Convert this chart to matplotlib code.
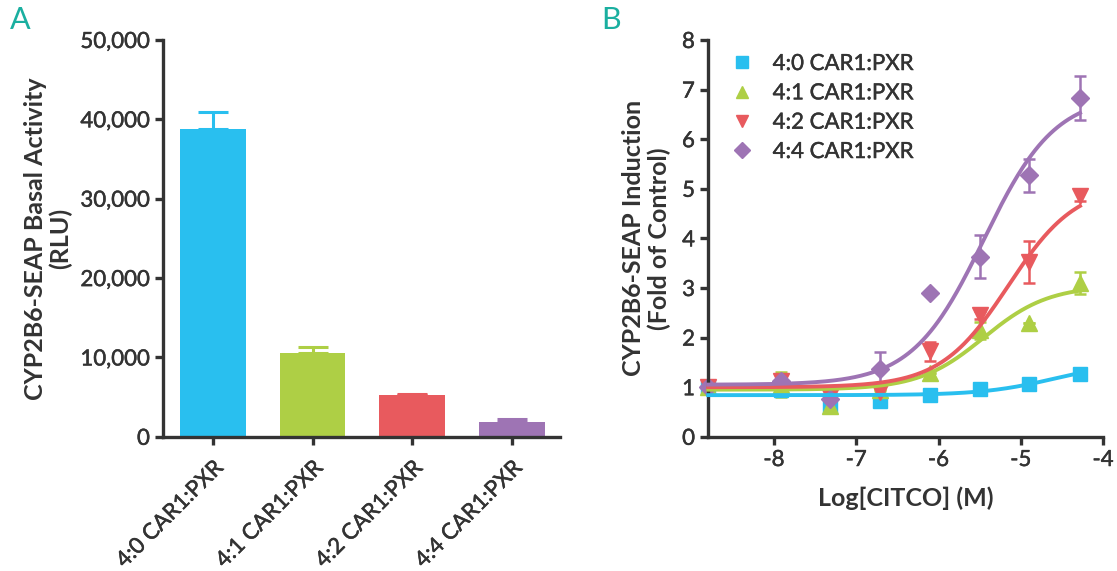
import matplotlib
matplotlib.use("Agg")
import matplotlib.pyplot as plt
import matplotlib.patheffects as pe
from matplotlib.lines import Line2D
import numpy as np

plt.rcParams['font.family'] = ['Lato', 'DejaVu Sans']
plt.rcParams['axes.unicode_minus'] = False

# panel A data
groups = ['4:0 CAR1:PXR', '4:1 CAR1:PXR', '4:2 CAR1:PXR', '4:4 CAR1:PXR']
basal = [38800, 10550, 5300, 1850]
basal_err = [2100, 750, 120, 400]
colors = ['#29BFEF', '#AECF45', '#E85A5E', '#9E74B4']

# panel B data
log_citco = [-8.8, -7.92, -7.32, -6.71, -6.1, -5.5, -4.9, -4.28]
fold_40 = [1.0, 0.95, 0.63, 0.72, 0.85, 0.97, 1.06, 1.26]
fold_40_err = [0.04, 0.04, 0.04, 0.04, 0.04, 0.04, 0.08, 0.06]
fold_41 = [1.0, 1.05, 0.62, 0.95, 1.28, 2.15, 2.3, 3.1]
fold_41_err = [0.1, 0.25, 0.0, 0.0, 0.0, 0.17, 0.0, 0.23]
fold_42 = [1.0, 1.12, 0.8, 0.9, 1.72, 2.45, 3.52, 4.85]
fold_42_err = [0.05, 0.12, 0.0, 0.15, 0.2, 0.08, 0.42, 0.1]
fold_44 = [1.01, 1.13, 0.77, 1.37, 2.9, 3.63, 5.27, 6.83]
fold_44_err = [0.0, 0.1, 0.0, 0.33, 0.0, 0.43, 0.34, 0.44]

# fitted 4PL parameters: bottom, top, logEC50, hill
fit_40 = [0.84, 1.5, -4.6, 1.0]
fit_41 = [0.95, 3.05, -5.45, 1.1]
fit_42 = [1.0, 5.1, -5.15, 1.05]
fit_44 = [1.05, 6.9, -5.45, 1.0]

series = [(fold_40, fold_40_err, fit_40, 's', 10),
          (fold_41, fold_41_err, fit_41, '^', 11),
          (fold_42, fold_42_err, fit_42, 'v', 11),
          (fold_44, fold_44_err, fit_44, 'D', 9.5)]

axis_col = '#333333'
teal = '#1AAFA0'
tick_fs = 16
label_fs = 18
heavier = [pe.withStroke(linewidth=0.35, foreground=axis_col)]

fig = plt.figure(figsize=(11.17, 5.71), dpi=100)

def style(ax):
    for s in ['top', 'right']:
        ax.spines[s].set_visible(False)
    for s in ['left', 'bottom']:
        ax.spines[s].set_linewidth(2.4)
        ax.spines[s].set_color(axis_col)
    ax.tick_params(width=2.4, length=6, color=axis_col, labelcolor=axis_col,
                   labelsize=tick_fs)
    for lab in ax.get_xticklabels() + ax.get_yticklabels():
        lab.set_path_effects(heavier)

# ---- panel A
axA = fig.add_axes([0.146, 0.235, 0.355, 0.695])
x = np.arange(len(groups))
for i in range(len(groups)):
    axA.bar(x[i], basal[i], width=0.66, color=colors[i], zorder=2)
    axA.errorbar(x[i], basal[i], yerr=[[0], [basal_err[i]]], color=colors[i],
                 capsize=11, capthick=2.2, elinewidth=2.2, fmt='none', zorder=1)
axA.set_xlim(-0.5, 3.48)
axA.set_ylim(0, 50000)
axA.set_yticks([0, 10000, 20000, 30000, 40000, 50000])
axA.set_yticklabels(['0', '10,000', '20,000', '30,000', '40,000', '50,000'])
axA.set_xticks(x)
axA.set_xticklabels(groups, rotation=45, ha='right', rotation_mode='anchor',
                    fontsize=16.5)
style(axA)
axA.tick_params(axis='x', pad=9)
axA.set_ylabel('CYP2B6-SEAP Basal Activity\n(RLU)', fontsize=label_fs,
               fontweight='bold', color=axis_col, labelpad=6,
               linespacing=1.1)

# ---- panel B
axB = fig.add_axes([0.634, 0.235, 0.3535, 0.695])
xs = np.array(log_citco)
xc = np.linspace(xs[0], xs[-1], 300)
handles = []
for (vals, errs, fit, mk, ms), col, lab in zip(series, colors, groups):
    b, t, ec, h = fit
    axB.plot(xc, b + (t - b) / (1 + 10 ** ((ec - xc) * h)), color=col, lw=2.8,
             zorder=3, clip_on=False)
    axB.errorbar(xs, vals, yerr=errs, fmt=mk, color=col, ms=ms, capsize=4.5,
                 elinewidth=1.8, capthick=1.8, clip_on=False, zorder=2)
    handles.append(Line2D([], [], ls='none', marker=mk, color=col, ms=ms * 0.85,
                          label=lab))
axB.set_xlim(-8.8, -4)
axB.set_ylim(0, 8)
axB.set_xticks([-8, -7, -6, -5, -4])
axB.set_yticks(range(0, 9))
style(axB)
axB.set_ylabel('CYP2B6-SEAP Induction\n(Fold of Control)', fontsize=label_fs,
               fontweight='bold', color=axis_col, labelpad=8, linespacing=1.1)
axB.set_xlabel('Log[CITCO] (M)', fontsize=label_fs, fontweight='bold',
               color=axis_col, labelpad=12)
leg = axB.legend(handles=handles, loc='upper left', bbox_to_anchor=(0.0, 1.015),
                 frameon=False, fontsize=tick_fs, handletextpad=0.8,
                 labelspacing=0.42, handlelength=1.2)
for t in leg.get_texts():
    t.set_color(axis_col)
    t.set_path_effects([pe.withStroke(linewidth=0.3, foreground=axis_col)])

fig.text(0.009, 0.95, 'A', fontsize=22, color=teal)
fig.text(0.538, 0.95, 'B', fontsize=22, color=teal)

fig.savefig('out.png', dpi=100)
